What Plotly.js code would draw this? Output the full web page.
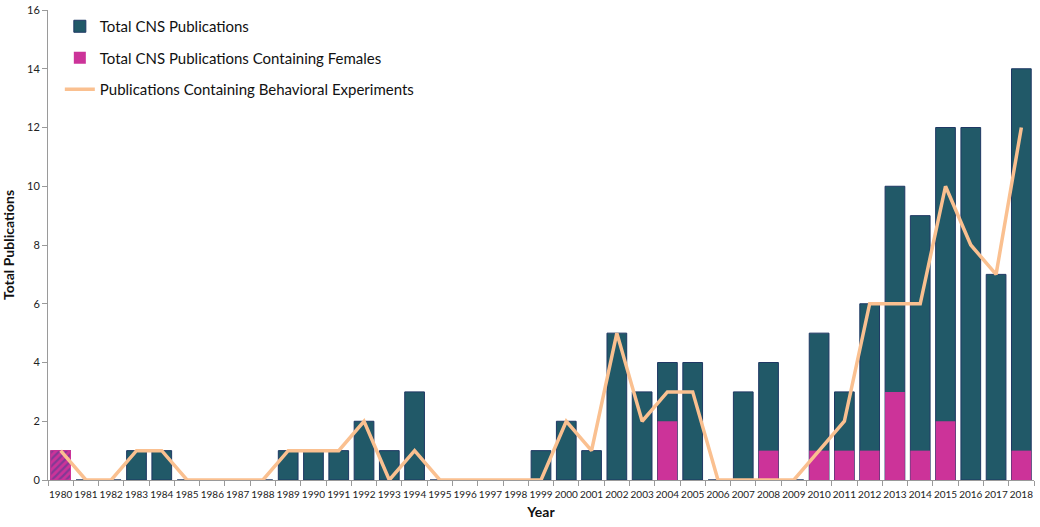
<!DOCTYPE html>
<html>
<head>
<meta charset="utf-8">
<script src="https://cdn.plot.ly/plotly-3.0.1.min.js"></script>
<style>
  html, body { margin: 0; padding: 0; background: #fff; }
  #chart { width: 1040px; height: 527px; }
</style>
</head>
<body>
<div id="chart"></div>
<script>
const years = [];
for (let y = 1980; y <= 2018; y++) years.push(String(y));

const totalCNS = [1, 0, 0, 1, 1, 0, 0, 0, 0, 1, 1, 1, 2, 1, 3, 0, 0, 0, 0, 1,
                  2, 1, 5, 3, 4, 4, 0, 3, 4, 0, 5, 3, 6, 10, 9, 12, 12, 7, 14];
const withFemales = [1, 0, 0, 0, 0, 0, 0, 0, 0, 0, 0, 0, 0, 0, 0, 0, 0, 0, 0, 0,
                     0, 0, 0, 0, 2, 0, 0, 0, 1, 0, 1, 1, 1, 3, 1, 2, 0, 0, 1];
const behavioral = [1, 0, 0, 1, 1, 0, 0, 0, 0, 1, 1, 1, 2, 0, 1, 0, 0, 0, 0, 0,
                    2, 1, 5, 2, 3, 3, 0, 0, 0, 0, 1, 2, 6, 6, 6, 10, 8, 7, 12];
// years where the female bar is drawn hatched in the original
const hatchedYears = ["1980"];

const teal = "#215968";
const pink = "#CC3399";
const peach = "#FAC090";
const font = "Lato, 'Open Sans', sans-serif";

const data = [
    {
        type: "bar",
        name: "Total CNS Publications",
        x: years,
        y: totalCNS,
        marker: { color: teal, line: { color: "#1F3864", width: 1 } },
        legendgroup: "a",
    },
    {
        type: "bar",
        name: "Total CNS Publications Containing Females",
        x: years,
        y: withFemales,
        marker: { color: pink, line: { width: 0 } },
        legendgroup: "b",
    },
    {
        type: "bar",
        name: "hatched",
        x: hatchedYears,
        y: hatchedYears.map((h) => withFemales[years.indexOf(h)]),
        marker: {
            color: pink,
            line: { color: pink, width: 1 },
            pattern: { shape: "/", fgcolor: "#3B3F8F", fillmode: "overlay", size: 5, solidity: 0.45 },
        },
        showlegend: false,
        hoverinfo: "skip",
    },
    {
        type: "scatter",
        mode: "lines",
        name: "Publications Containing Behavioral Experiments",
        x: years,
        y: behavioral,
        line: { color: peach, width: 3.5 },
        legendgroup: "c",
    },
];

const layout = {
    width: 1040,
    height: 527,
    margin: { l: 48, r: 6, t: 10, b: 47 },
    paper_bgcolor: "#fff",
    plot_bgcolor: "#fff",
    barmode: "overlay",
    bargap: 0.22,
    font: { family: font, color: "#222", size: 11 },
    showlegend: true,
    legend: {
        x: 0.012,
        y: 1.0,
        xanchor: "left",
        yanchor: "top",
        traceorder: "grouped",
        tracegroupgap: 9,
        font: { family: font, size: 15, color: "#111" },
        bgcolor: "rgba(0,0,0,0)",
        itemwidth: 30,
    },
    xaxis: {
        type: "category",
        showgrid: false,
        showline: true,
        linecolor: "#9a9a9a",
        ticks: "outside",
        tickson: "boundaries",
        ticklen: 5,
        tickcolor: "#9a9a9a",
        tickangle: 0,
        ticklabelstandoff: 5,
        tickfont: { family: font, size: 10, color: "#222" },
        title: { text: "<b>Year</b>", font: { family: font, size: 14, color: "#111" }, standoff: 8 },
        range: [-0.5, 38.5],
    },
    yaxis: {
        range: [0, 16],
        dtick: 2,
        showgrid: false,
        zeroline: false,
        showline: true,
        linecolor: "#9a9a9a",
        ticks: "outside",
        ticklen: 5,
        tickcolor: "#9a9a9a",
        tickfont: { family: font, size: 11, color: "#222" },
        title: { text: "<b>Total Publications</b>", font: { family: font, size: 14, color: "#111" }, standoff: 12 },
    },
};

Plotly.newPlot("chart", data, layout, { displayModeBar: false, staticPlot: true });
</script>
</body>
</html>
